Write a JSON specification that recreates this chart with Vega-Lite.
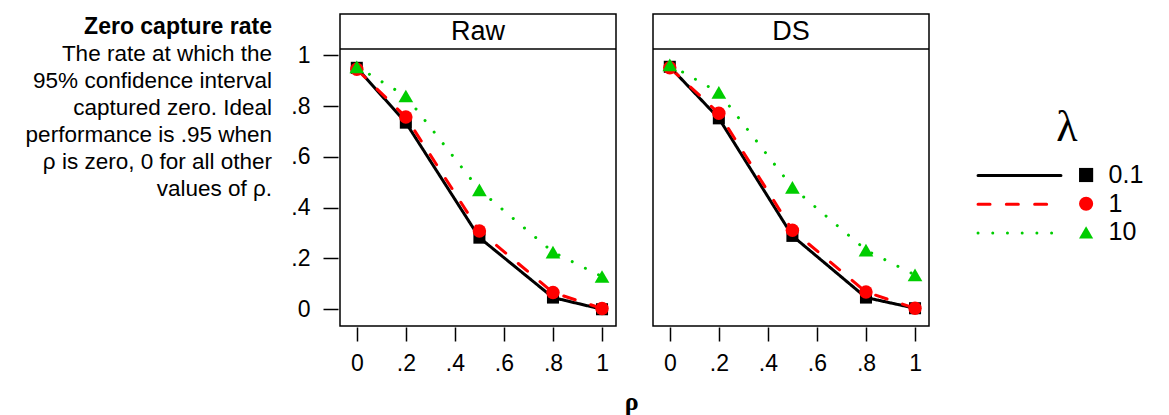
{
  "$schema": "https://vega.github.io/schema/vega-lite/v6.json",
  "padding": {"left": 0, "top": 13, "right": 0, "bottom": 0},
  "config": {
    "font": "Liberation Sans",
    "view": {"stroke": "#000", "strokeWidth": 1.5},
    "axis": {"grid": false, "domain": false, "tickColor": "#000", "tickWidth": 1.5, "labelColor": "#000", "labelFont": "Liberation Sans", "labelFontSize": 23}
  },
  "datasets": {
    "rates": [
      {"panel": "Raw", "lambda": "0.1", "rho": 0, "rate": 0.951},
      {"panel": "Raw", "lambda": "0.1", "rho": 0.2, "rate": 0.735},
      {"panel": "Raw", "lambda": "0.1", "rho": 0.5, "rate": 0.282},
      {"panel": "Raw", "lambda": "0.1", "rho": 0.8, "rate": 0.046},
      {"panel": "Raw", "lambda": "0.1", "rho": 1, "rate": 0.0},
      {"panel": "Raw", "lambda": "1", "rho": 0, "rate": 0.945},
      {"panel": "Raw", "lambda": "1", "rho": 0.2, "rate": 0.757},
      {"panel": "Raw", "lambda": "1", "rho": 0.5, "rate": 0.308},
      {"panel": "Raw", "lambda": "1", "rho": 0.8, "rate": 0.066},
      {"panel": "Raw", "lambda": "1", "rho": 1, "rate": 0.003},
      {"panel": "Raw", "lambda": "10", "rho": 0, "rate": 0.955},
      {"panel": "Raw", "lambda": "10", "rho": 0.2, "rate": 0.840},
      {"panel": "Raw", "lambda": "10", "rho": 0.5, "rate": 0.470},
      {"panel": "Raw", "lambda": "10", "rho": 0.8, "rate": 0.225},
      {"panel": "Raw", "lambda": "10", "rho": 1, "rate": 0.129},
      {"panel": "DS", "lambda": "0.1", "rho": 0, "rate": 0.955},
      {"panel": "DS", "lambda": "0.1", "rho": 0.2, "rate": 0.752},
      {"panel": "DS", "lambda": "0.1", "rho": 0.5, "rate": 0.289},
      {"panel": "DS", "lambda": "0.1", "rho": 0.8, "rate": 0.046},
      {"panel": "DS", "lambda": "0.1", "rho": 1, "rate": 0.004},
      {"panel": "DS", "lambda": "1", "rho": 0, "rate": 0.951},
      {"panel": "DS", "lambda": "1", "rho": 0.2, "rate": 0.772},
      {"panel": "DS", "lambda": "1", "rho": 0.5, "rate": 0.311},
      {"panel": "DS", "lambda": "1", "rho": 0.8, "rate": 0.068},
      {"panel": "DS", "lambda": "1", "rho": 1, "rate": 0.004},
      {"panel": "DS", "lambda": "10", "rho": 0, "rate": 0.963},
      {"panel": "DS", "lambda": "10", "rho": 0.2, "rate": 0.854},
      {"panel": "DS", "lambda": "10", "rho": 0.5, "rate": 0.480},
      {"panel": "DS", "lambda": "10", "rho": 0.8, "rate": 0.233},
      {"panel": "DS", "lambda": "10", "rho": 1, "rate": 0.135}
    ]
  },
  "spacing": 18,
  "hconcat": [
    {
      "width": 272,
      "height": 1,
      "view": {"stroke": null},
      "data": {"values": []},
      "mark": "text",
      "title": {
        "text": "Zero capture rate",
        "subtitle": ["The rate at which the", "95% confidence interval", "captured zero. Ideal", "performance is .95 when", "ρ is zero, 0 for all other", "values of ρ."],
        "anchor": "end",
        "align": "right",
        "orient": "bottom",
        "baseline": "top",
        "frame": "group",
        "font": "Liberation Sans",
        "fontSize": 23,
        "fontWeight": "bold",
        "color": "#000",
        "subtitleFont": "Liberation Sans",
        "subtitleFontSize": 22.5,
        "subtitleFontWeight": "normal",
        "subtitleColor": "#000",
        "subtitleLineHeight": 27,
        "subtitlePadding": 4,
        "offset": 1
      }
    },
    {
      "data": {"name": "rates"},
      "facet": {
        "column": {"field": "panel", "type": "nominal", "sort": ["Raw", "DS"], "title": null, "header": {"labels": false}}
      },
      "spacing": 33,
      "title": {"text": "ρ", "orient": "bottom", "anchor": "middle", "frame": "bounds", "dx": 21, "font": "Liberation Serif", "fontSize": 26, "fontWeight": "bold", "color": "#000", "offset": 14},
      "spec": {
        "width": 276,
        "height": 312,
        "layer": [
          {
            "transform": [{"aggregate": [{"op": "count", "as": "n"}], "groupby": ["panel"]}],
            "mark": {"type": "rule", "color": "#000", "strokeWidth": 1.5},
            "encoding": {"y": {"datum": 1.025, "type": "quantitative"}}
          },
          {
            "transform": [{"aggregate": [{"op": "count", "as": "n"}], "groupby": ["panel"]}],
            "mark": {"type": "text", "fontSize": 27, "color": "#000", "baseline": "middle", "align": "center"},
            "encoding": {
              "x": {"datum": 0.494, "type": "quantitative"},
              "y": {"datum": 1.094, "type": "quantitative"},
              "text": {"field": "panel"}
            }
          },
          {
            "mark": {"type": "line", "strokeWidth": 3, "strokeCap": "round"},
            "encoding": {
              "x": {"field": "rho", "type": "quantitative",
                "scale": {"domain": [-0.0685, 1.057], "nice": false, "zero": false},
                "axis": {"values": [0, 0.2, 0.4, 0.6, 0.8, 1], "title": null, "tickSize": 14, "labelPadding": 11,
                  "labelExpr": "datum.value == 0 ? '0' : datum.value == 1 ? '1' : replace(format(datum.value, '.1f'), '0.', '.')"}},
              "y": {"field": "rate", "type": "quantitative",
                "scale": {"domain": [-0.066, 1.163], "nice": false, "zero": false},
                "axis": {"values": [0, 0.2, 0.4, 0.6, 0.8, 1], "title": null, "tickSize": 15, "labelPadding": 13,
                  "labelExpr": "datum.value == 0 ? '0' : datum.value == 1 ? '1' : replace(format(datum.value, '.1f'), '0.', '.')"}},
              "stroke": {"field": "lambda", "type": "nominal",
                "scale": {"range": ["#000000", "#FF0000", "#00CD00"]},
                "legend": {"orient": "none", "legendX": 1007, "legendY": 92, "title": "λ", "titleFont": "Liberation Serif", "titleFontSize": 44, "titleFontWeight": "normal", "titleColor": "#000", "titleAnchor": "end", "titleAlign": "center", "titlePadding": 13, "symbolType": "M-6,0H6", "symbolSize": 191, "symbolStrokeWidth": 3, "labelExpr": "' '", "labelFontSize": 25, "labelOffset": 32, "rowPadding": 2.7, "padding": 0,
                  "encode": {"symbols": {"update": {"strokeCap": {"value": "round"}}}}}},
              "strokeDash": {"field": "lambda", "type": "nominal",
                "scale": {"range": [[1, 0], [12, 16.3], [0.01, 14.7]]},
                "legend": {"orient": "none", "legendX": 1007, "legendY": 92, "title": "λ", "symbolType": "M-6,0H6", "symbolSize": 191, "labelFontSize": 25, "labelOffset": 32, "rowPadding": 2.7, "padding": 0}}
            }
          },
          {
            "mark": {"type": "point", "filled": true, "opacity": 1, "strokeWidth": 0},
            "encoding": {
              "x": {"field": "rho", "type": "quantitative"},
              "y": {"field": "rate", "type": "quantitative"},
              "fill": {"field": "lambda", "type": "nominal",
                "scale": {"domain": ["0.1", "1", "10"], "range": ["#000000", "#FF0000", "#00CD00"]},
                "legend": {"orient": "none", "legendX": 1073.6, "legendY": 148.5, "title": null, "symbolSize": 200, "symbolStrokeWidth": 0, "labelFontSize": 25, "labelColor": "#000", "labelOffset": 10, "rowPadding": 2.7, "padding": 0,
                  "encode": {"symbols": {"update": {"size": {"signal": "datum.value == '10' ? 372 : 200"}}}}}},
              "shape": {"field": "lambda", "type": "nominal",
                "scale": {"domain": ["0.1", "1", "10"], "range": ["square", "circle", "triangle-up"]},
                "legend": {"orient": "none", "legendX": 1073.6, "legendY": 148.5, "title": null, "symbolSize": 200, "labelFontSize": 25, "labelOffset": 10, "rowPadding": 2.7, "padding": 0}},
              "size": {"field": "lambda", "type": "nominal",
                "scale": {"domain": ["10", "1", "0.1"], "range": [216, 145, 135]},
                "legend": null}
            }
          }
        ]
      }
    }
  ]
}
